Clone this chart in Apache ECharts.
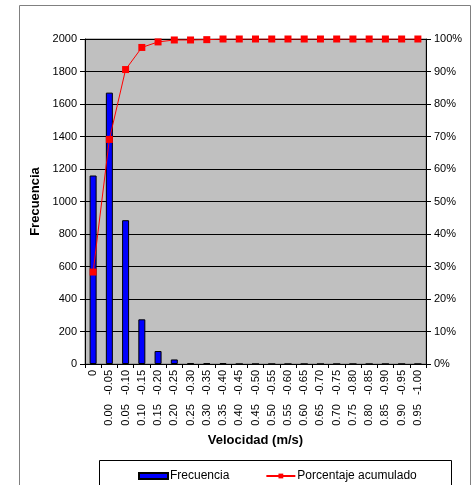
<!DOCTYPE html>
<html>
<head>
<meta charset="utf-8">
<script src="https://cdn.jsdelivr.net/npm/echarts@6/dist/echarts.min.js"></script>
<style>
  html, body { margin: 0; padding: 0; background: #fff; }
  #chart { width: 474px; height: 485px; }
</style>
</head>
<body>
<div id="chart"></div>
<script>
// velocity bins (m/s)
var categories = ['0', '0.00   -0.05', '0.05   -0.10', '0.10   -0.15', '0.15   -0.20', '0.20   -0.25',
  '0.25   -0.30', '0.30   -0.35', '0.35   -0.40', '0.40   -0.45', '0.45   -0.50', '0.50   -0.55',
  '0.55   -0.60', '0.60   -0.65', '0.65   -0.70', '0.70   -0.75', '0.75   -0.80', '0.80   -0.85',
  '0.85   -0.90', '0.90   -0.95', '0.95   -1.00'];
var frecuencia = [1160, 1670, 885, 275, 80, 28, 5, 5, 5, 0, 0, 0, 0, 0, 0, 0, 0, 0, 0, 0, 0];
var acumulado = [28.3, 69.1, 90.6, 97.4, 99.1, 99.7, 99.7, 99.8, 100, 100, 100, 100, 100, 100, 100, 100, 100, 100, 100, 100, 100];

var font = 'Liberation Sans, Arial, sans-serif';
var chart = echarts.init(document.getElementById('chart'));

chart.setOption({
  animation: false,
  textStyle: { fontFamily: font, color: '#000' },
  graphic: [
    { type: 'rect', shape: { x: 19.5, y: 5.5, width: 451, height: 490 },
      style: { fill: 'none', stroke: '#808080', lineWidth: 1 }, z: -1 },
    { type: 'rect', shape: { x: 99.5, y: 460.5, width: 352, height: 40 },
      style: { fill: '#fff', stroke: '#000', lineWidth: 1 }, z: 0 }
  ],
  grid: {
    left: 85, right: 48, top: 39, bottom: 121,
    show: true, backgroundColor: '#c0c0c0', borderColor: '#808080', borderWidth: 1
  },
  legend: {
    top: 465, left: 133,
    itemWidth: 29, itemHeight: 6, itemGap: 36,
    textStyle: { fontFamily: font, fontSize: 12, color: '#000', padding: [0, 0, 0, -3] },
    data: [
      { name: 'Frecuencia', icon: 'rect' },
      { name: 'Porcentaje acumulado' }
    ],
    z: 5
  },
  xAxis: {
    type: 'category',
    data: categories,
    name: 'Velocidad (m/s)',
    nameLocation: 'middle',
    nameGap: 67,
    nameTextStyle: { fontFamily: font, fontSize: 13, fontWeight: 'bold', color: '#000' },
    axisLine: { lineStyle: { color: '#000' } },
    axisTick: { show: true, length: 4, lineStyle: { color: '#000' } },
    axisLabel: { rotate: 90, fontSize: 11, margin: 6, color: '#000', interval: 0 },
    splitLine: { show: false }
  },
  yAxis: [
    {
      type: 'value', min: 0, max: 2000, interval: 200,
      name: 'Frecuencia',
      nameLocation: 'middle',
      nameGap: 36,
      nameTextStyle: { fontFamily: font, fontSize: 13, fontWeight: 'bold', color: '#000' },
      axisLine: { show: true, lineStyle: { color: '#000' } },
      axisTick: { show: true, length: 5, lineStyle: { color: '#000' } },
      axisLabel: { fontSize: 11, margin: 8, color: '#000', formatter: function (v) { return String(v); } },
      splitLine: { show: true, lineStyle: { color: '#000', width: 1 } }
    },
    {
      type: 'value', min: 0, max: 100, interval: 10,
      position: 'right',
      axisLine: { show: true, lineStyle: { color: '#000' } },
      axisTick: { show: true, length: 5, lineStyle: { color: '#000' } },
      axisLabel: { fontSize: 11, margin: 8, color: '#000', formatter: '{value}%' },
      splitLine: { show: false }
    }
  ],
  series: [
    {
      name: 'Frecuencia',
      type: 'bar',
      data: frecuencia,
      barWidth: 7,
      itemStyle: { color: '#0000ff', borderColor: '#000', borderWidth: 1 }
    },
    {
      name: 'Porcentaje acumulado',
      type: 'line',
      yAxisIndex: 1,
      data: acumulado,
      symbol: 'rect',
      symbolSize: 7,
      lineStyle: { color: '#ff0000', width: 1 },
      itemStyle: { color: '#ff0000' },
      z: 3
    }
  ]
});
</script>
</body>
</html>
